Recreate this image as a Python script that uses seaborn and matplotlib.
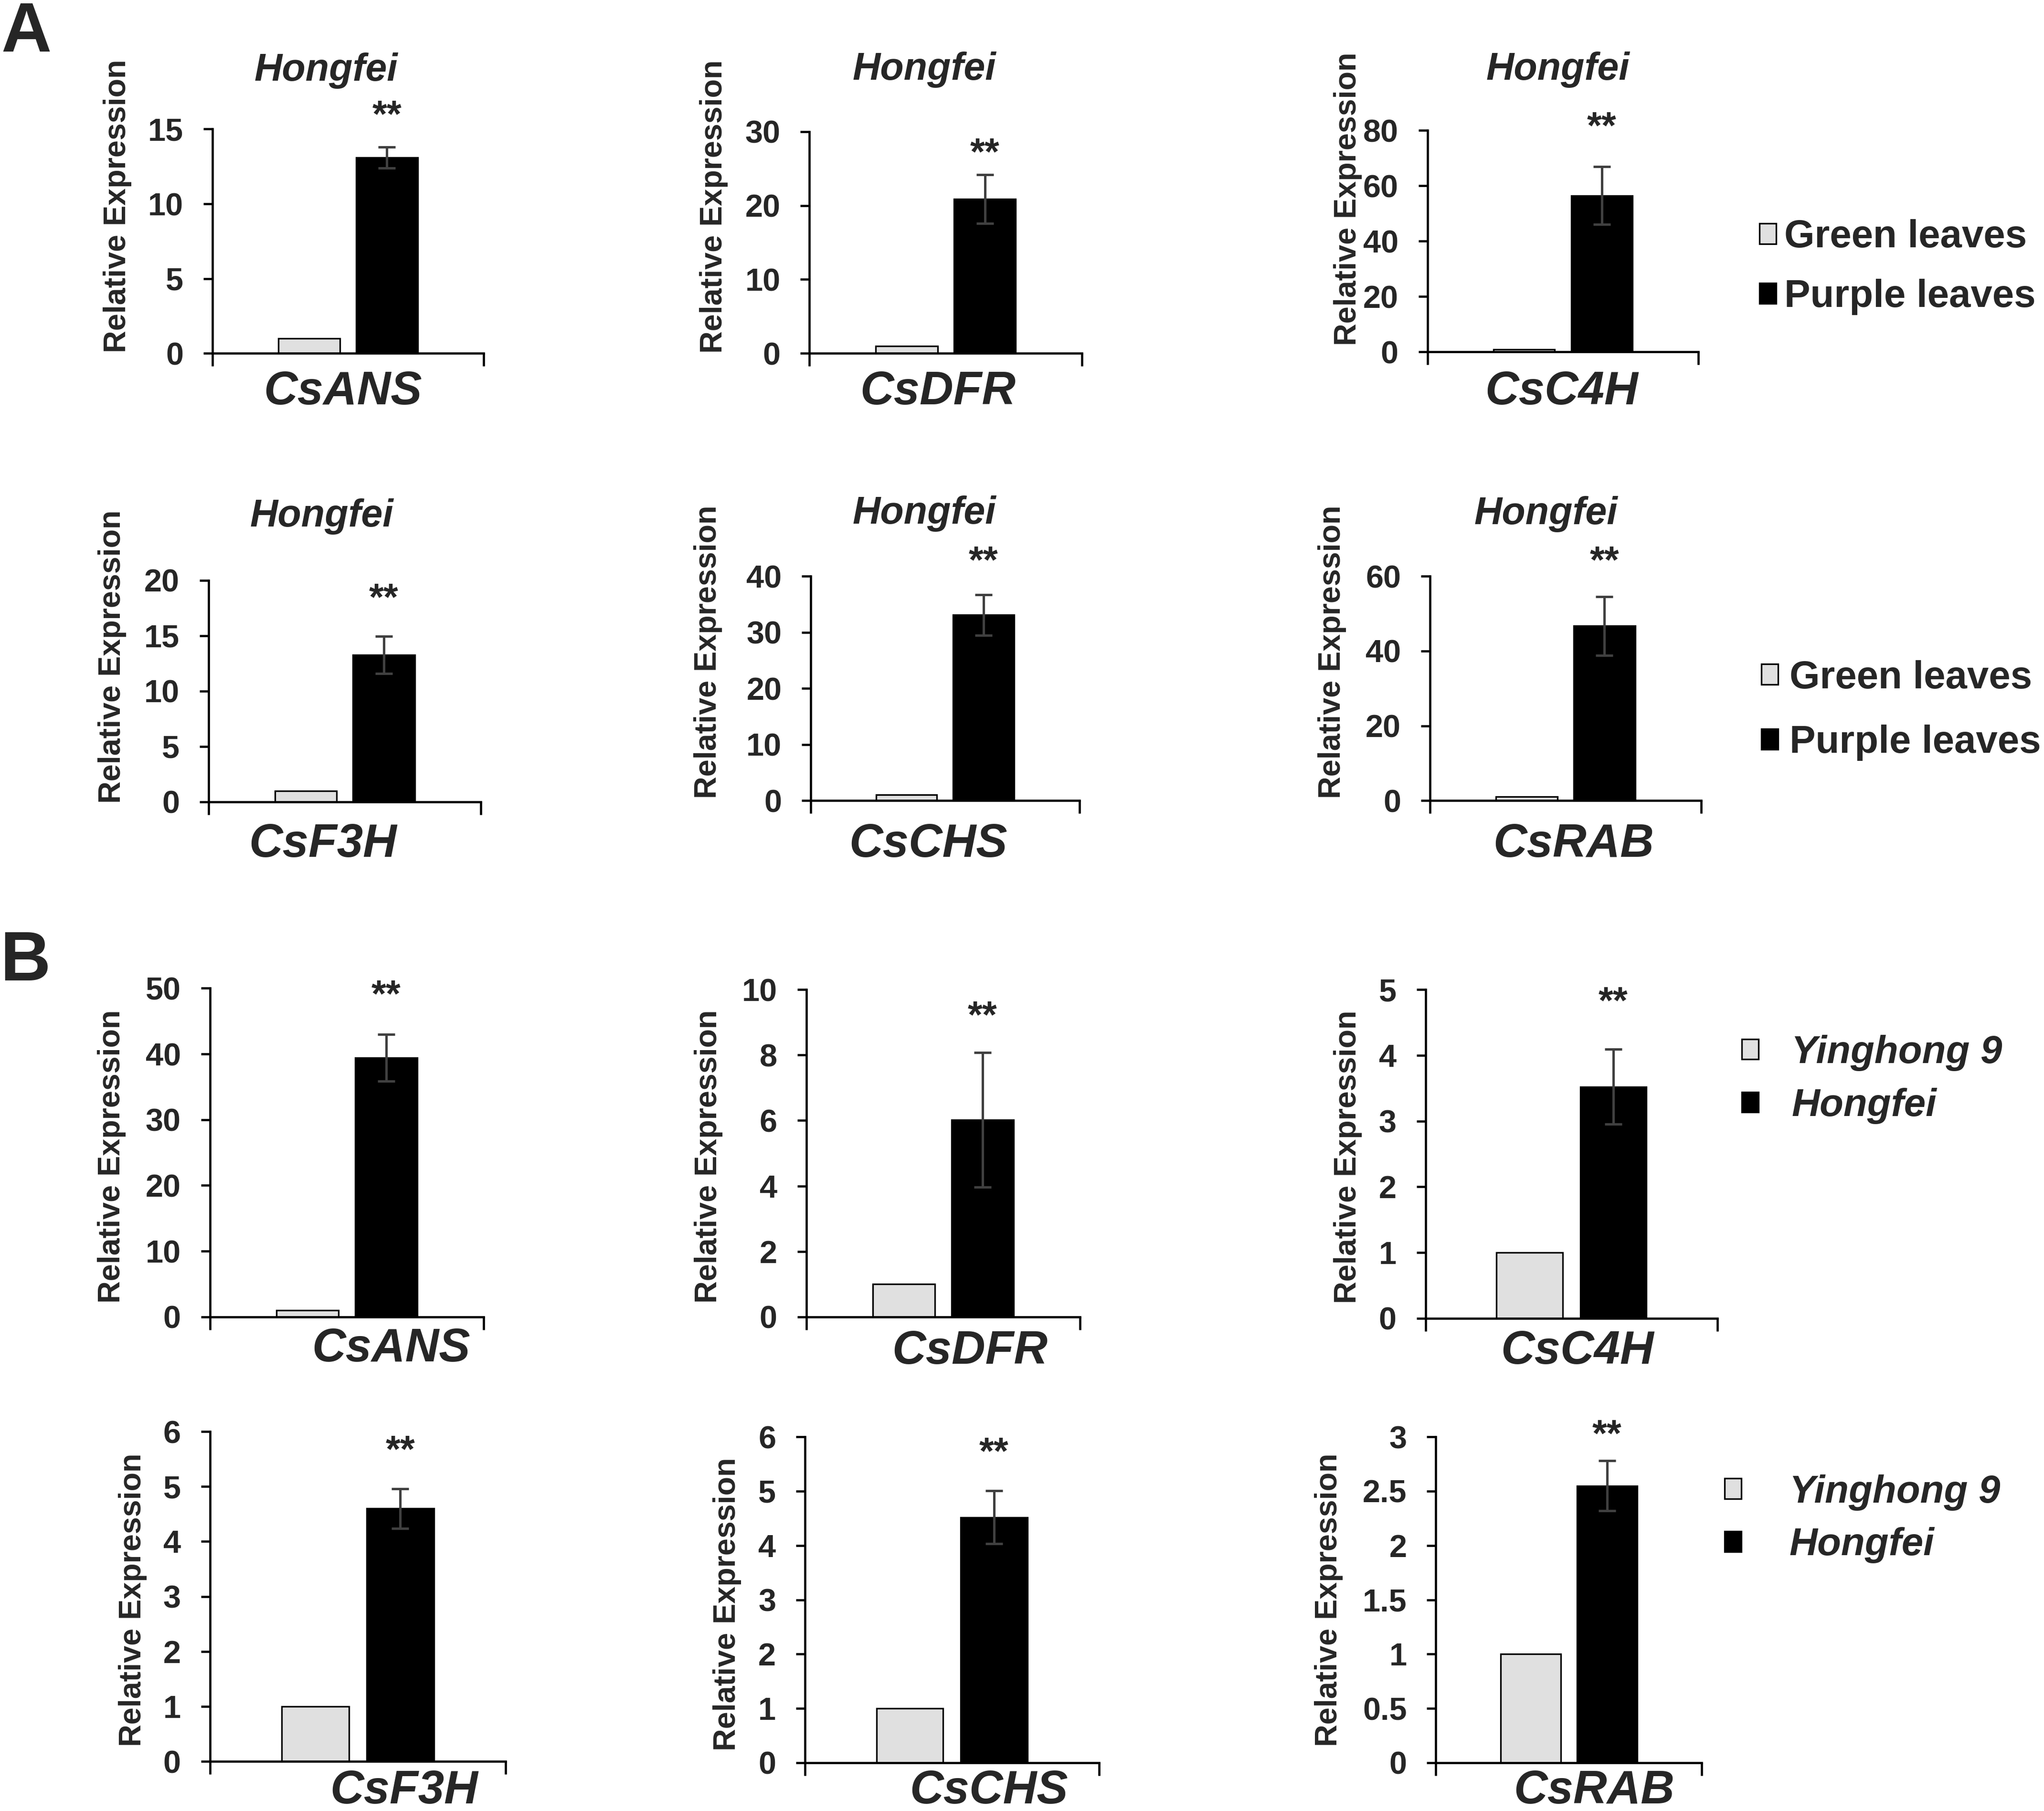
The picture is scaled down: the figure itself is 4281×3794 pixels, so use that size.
import matplotlib
matplotlib.use("Agg")
import matplotlib.pyplot as plt
import matplotlib.transforms as mtransforms
import pandas as pd
import seaborn as sns

# ---------------- data ----------------
genes = ['CsANS', 'CsDFR', 'CsC4H', 'CsF3H', 'CsCHS', 'CsRAB']

# panel A: green vs purple leaves of Hongfei
groups_a = ['Green leaves', 'Purple leaves']
green_a = [1, 1, 1, 1, 1, 1]
purple_a = [13.1, 20.9, 56.5, 13.25, 33.1, 46.7]
purple_err_a = [0.7, 3.3, 10.4, 1.67, 3.6, 7.8]
yticks_a = [[0, 5, 10, 15], [0, 10, 20, 30], [0, 20, 40, 60, 80],
            [0, 5, 10, 15, 20], [0, 10, 20, 30, 40], [0, 20, 40, 60]]

# panel B: Yinghong 9 vs Hongfei
groups_b = ['Yinghong 9', 'Hongfei']
yh9_b = [1, 1, 1, 1, 1, 1]
hongfei_b = [39.45, 6.02, 3.52, 4.6, 4.52, 2.55]
hongfei_err_b = [3.55, 2.05, 0.57, 0.36, 0.49, 0.23]
yticks_b = [[0, 10, 20, 30, 40, 50], [0, 2, 4, 6, 8, 10], [0, 1, 2, 3, 4, 5],
            [0, 1, 2, 3, 4, 5, 6], [0, 1, 2, 3, 4, 5, 6],
            [0, 0.5, 1, 1.5, 2, 2.5, 3]]

# ---------------- layout (reference pixels, 1568 x 1389 frame) ----------------
W, H = 1568.0, 1389.0
def fx(x):
    return x / W
def fy(y):
    return 1 - y / H

# left, right, top, bottom of every axes
axes_a = [(163, 371, 99, 271), (621, 830, 101, 271), (1095, 1303, 100, 270),
          (160, 369, 445, 615), (622, 828, 442, 614), (1097, 1305, 442, 614)]
axes_b = [(161, 371, 758, 1010), (618.5, 828.5, 759, 1010), (1093.5, 1317.5, 759, 1011),
          (161, 388, 1098, 1351), (617.5, 843, 1102, 1352), (1101.5, 1305.5, 1102, 1352)]
gene_pos_a = [(263, 310), (719.5, 310), (1198, 310), (247.5, 657), (712, 657), (1207, 657)]
gene_pos_b = [(300, 1044), (744, 1046), (1210, 1046), (310, 1383), (758.5, 1383), (1223, 1383)]
title_pos_a = [(250, 62), (709, 61), (1195, 61), (247, 403.7), (709, 401.6), (1186, 402)]
star_y_a = [81, 110, 90, 451.5, 423, 423]
star_y_b = [756, 772, 761, 1105, 1106.5, 1093]
ylab_a = [(90, 158), (547.5, 158.6), (1034, 152.6), (86, 503.5), (543, 500), (1022, 500)]
ylab_b = [(85.7, 887), (543.5, 887), (1034, 887.5), (102, 1227), (558, 1230.5), (1019.5, 1227)]
# legend: marker left x, vertical middle, text pad, label spacing
legends_a = [(1349.7, 205, 0.21, 0.60), (1351, 545, 0.30, 0.73)]
legends_b = [(1336, 828, 0.85, 0.43), (1323, 1165, 1.23, 0.42)]

LIGHT = '#E0E0E0'
DARK = '#000000'
ERR = '#404040'
FONT = ['Liberation Sans', 'DejaVu Sans']

sns.set_style('ticks')
plt.rcParams['font.family'] = FONT

fig = plt.figure(figsize=(4281 / 300, 3794 / 300), dpi=300)


def draw_panel(box, gene, groups, vals, err, ticks, gene_pos, star_y, ylab_pos):
    l, r, t, b = box
    ax = fig.add_axes([fx(l), fy(b), fx(r) - fx(l), fy(t) - fy(b)])
    df = pd.DataFrame({'gene': [gene, gene], 'group': groups, 'value': vals})
    sns.barplot(data=df, x='gene', y='value', hue='group', hue_order=groups,
                palette={groups[0]: LIGHT, groups[1]: DARK}, saturation=1,
                width=0.574, gap=0.21, edgecolor='black', linewidth=0.8,
                errorbar=None, legend=False, ax=ax)
    bar = ax.containers[1][0]
    cx = bar.get_x() + bar.get_width() / 2
    ax.errorbar(cx, vals[1], yerr=err, color=ERR, elinewidth=1.2, capsize=4.3,
                capthick=1.2, zorder=4)

    ax.set_xlim(-0.5, 0.5)
    ax.set_ylim(0, ticks[-1])
    ax.set_yticks(ticks, labels=[f'{v:g}' for v in ticks], fontweight='bold', fontsize=16)
    ax.set_xticks([-0.5, 0.5], labels=['', ''])
    ax.tick_params(axis='y', length=4.6, width=1.1, pad=10, color='black')
    ax.tick_params(axis='x', length=6.5, width=1.1, color='black')
    sns.despine(ax=ax)
    for s in ('left', 'bottom'):
        ax.spines[s].set_linewidth(1.1)
        ax.spines[s].set_color('black')
    ax.set_xlabel('')
    ax.set_ylabel('Relative Expression', fontsize=15.5, fontweight='bold')
    ax.yaxis.label.set_verticalalignment('center')
    ax.yaxis.set_label_coords(fx(ylab_pos[0]), fy(ylab_pos[1]), transform=fig.transFigure)

    fig.text(fx(gene_pos[0]), fy(gene_pos[1]), gene, ha='center', va='baseline',
             fontsize=23.5, fontweight='bold', fontstyle='italic')
    trans = mtransforms.blended_transform_factory(ax.transData, fig.transFigure)
    ax.text(cx, fy(star_y + 16), '**', transform=trans, ha='center', va='baseline',
            fontsize=19, fontweight='bold', clip_on=False)
    return ax


def add_legend(ax, groups, spec, italic):
    x, y, pad, spacing = spec
    ax.legend(handles=[ax.containers[0], ax.containers[1]], labels=groups,
              loc='center left', bbox_to_anchor=(fx(x), fy(y)),
              bbox_transform=fig.transFigure, frameon=False,
              prop=dict(family=FONT, weight='bold', size=19.6,
                        style='italic' if italic else 'normal'),
              handlelength=0.43, handleheight=0.43, handletextpad=pad,
              labelspacing=spacing, borderpad=0, borderaxespad=0)


for i, gene in enumerate(genes):
    ax = draw_panel(axes_a[i], gene, groups_a, [green_a[i], purple_a[i]],
                    purple_err_a[i], yticks_a[i], gene_pos_a[i], star_y_a[i], ylab_a[i])
    fig.text(fx(title_pos_a[i][0]), fy(title_pos_a[i][1]), 'Hongfei', ha='center',
             va='baseline', fontsize=19.4, fontweight='bold', fontstyle='italic')
    if i == 2:
        add_legend(ax, groups_a, legends_a[0], False)
    if i == 5:
        add_legend(ax, groups_a, legends_a[1], False)

for i, gene in enumerate(genes):
    ax = draw_panel(axes_b[i], gene, groups_b, [yh9_b[i], hongfei_b[i]],
                    hongfei_err_b[i], yticks_b[i], gene_pos_b[i], star_y_b[i], ylab_b[i])
    if i == 2:
        add_legend(ax, groups_b, legends_b[0], True)
    if i == 5:
        add_legend(ax, groups_b, legends_b[1], True)

fig.text(fx(1.0), fy(39.5), 'A', ha='left', va='baseline', fontsize=35, fontweight='bold')
fig.text(fx(0.0), fy(752), 'B', ha='left', va='baseline', fontsize=35, fontweight='bold')

fig.savefig('out.png', dpi=300)
